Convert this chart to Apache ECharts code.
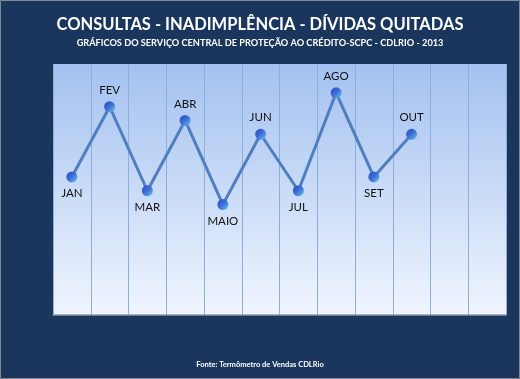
<!DOCTYPE html>
<html>
<head>
<meta charset="utf-8">
<script src="https://cdn.jsdelivr.net/npm/echarts@6/dist/echarts.min.js"></script>
<style>
html,body{margin:0;padding:0;background:#1A365D;}
#c{width:520px;height:379px;}
</style>
</head>
<body>
<div id="c"></div>
<script>
var categories = ['JAN','FEV','MAR','ABR','MAIO','JUN','JUL','AGO','SET','OUT','NOV','DEZ'];
var values = [55, 83, 49.5, 77.5, 44, 72, 49.5, 88.5, 55, 72, null, null];
var titleText = 'CONSULTAS - INADIMPLÊNCIA - DÍVIDAS QUITADAS';
var subtitleText = 'GRÁFICOS DO SERVIÇO CENTRAL DE PROTEÇÃO AO CRÉDITO-SCPC - CDLRIO - 2013';
var sourceText = 'Fonte: Termômetro de Vendas CDLRio';

var chart = echarts.init(document.getElementById('c'), null, {renderer:'canvas'});
var seriesData = values.map(function(v, i){
  return {
    value: v,
    label: {
      show: v !== null,
      formatter: categories[i],
      position: i % 2 === 0 ? 'bottom' : 'top'
    }
  };
});
chart.setOption({
  backgroundColor: '#1A365D',
  animation: false,
  title: [
    {text: titleText, left: 'center', top: 11,
     textStyle: {color:'#fff', fontFamily:'Lato', fontWeight:'bold', fontSize:16.5}},
    {text: subtitleText, left: 'center', top: 34,
     textStyle: {color:'#fff', fontFamily:'Lato', fontWeight:'bold', fontSize:9.2}},
    {text: sourceText, left: 'center', top: 356,
     textStyle: {color:'#fff', fontFamily:'Lato', fontWeight:'bold', fontSize:7.5}}
  ],
  graphic: [{
    type:'rect', shape:{x:0.5,y:0.5,width:519,height:378},
    style:{fill:'none', stroke:'#7F8896', lineWidth:1}, silent:true
  }],
  grid: {
    left: 53, right: 14, top: 64, bottom: 64, show: true, borderWidth: 0,
    backgroundColor: new echarts.graphic.LinearGradient(0,0,0,1,[
      {offset:0, color:'#A3C1F0'},{offset:1, color:'#F0F5FE'}])
  },
  xAxis: {
    type: 'category', data: categories, boundaryGap: true,
    axisLabel: {show:false, interval:0}, axisTick: {show:false, interval:0},
    axisLine: {show:true, lineStyle:{color:'#8C99AA', width:1.5}},
    splitLine: {show:true, interval:0, lineStyle:{color:'#8EAEDA', width:1}}
  },
  yAxis: {
    type: 'value', min: 0, max: 100, show: false, splitLine:{show:false}
  },
  series: [{
    type: 'line', data: seriesData, connectNulls: false,
    symbol: 'circle', symbolSize: 11,
    lineStyle: {color:'#4F7FBE', width:3},
    itemStyle: {
      color: new echarts.graphic.LinearGradient(0,0,1,1,[
        {offset:0, color:'#2B47C0'},{offset:0.5, color:'#3F6FD8'},{offset:1, color:'#62CBEA'}]),
      borderWidth: 0
    },
    label: {color:'#111', fontFamily:'Lato', fontSize:11.5, distance:5}
  }]
});
</script>
</body>
</html>
